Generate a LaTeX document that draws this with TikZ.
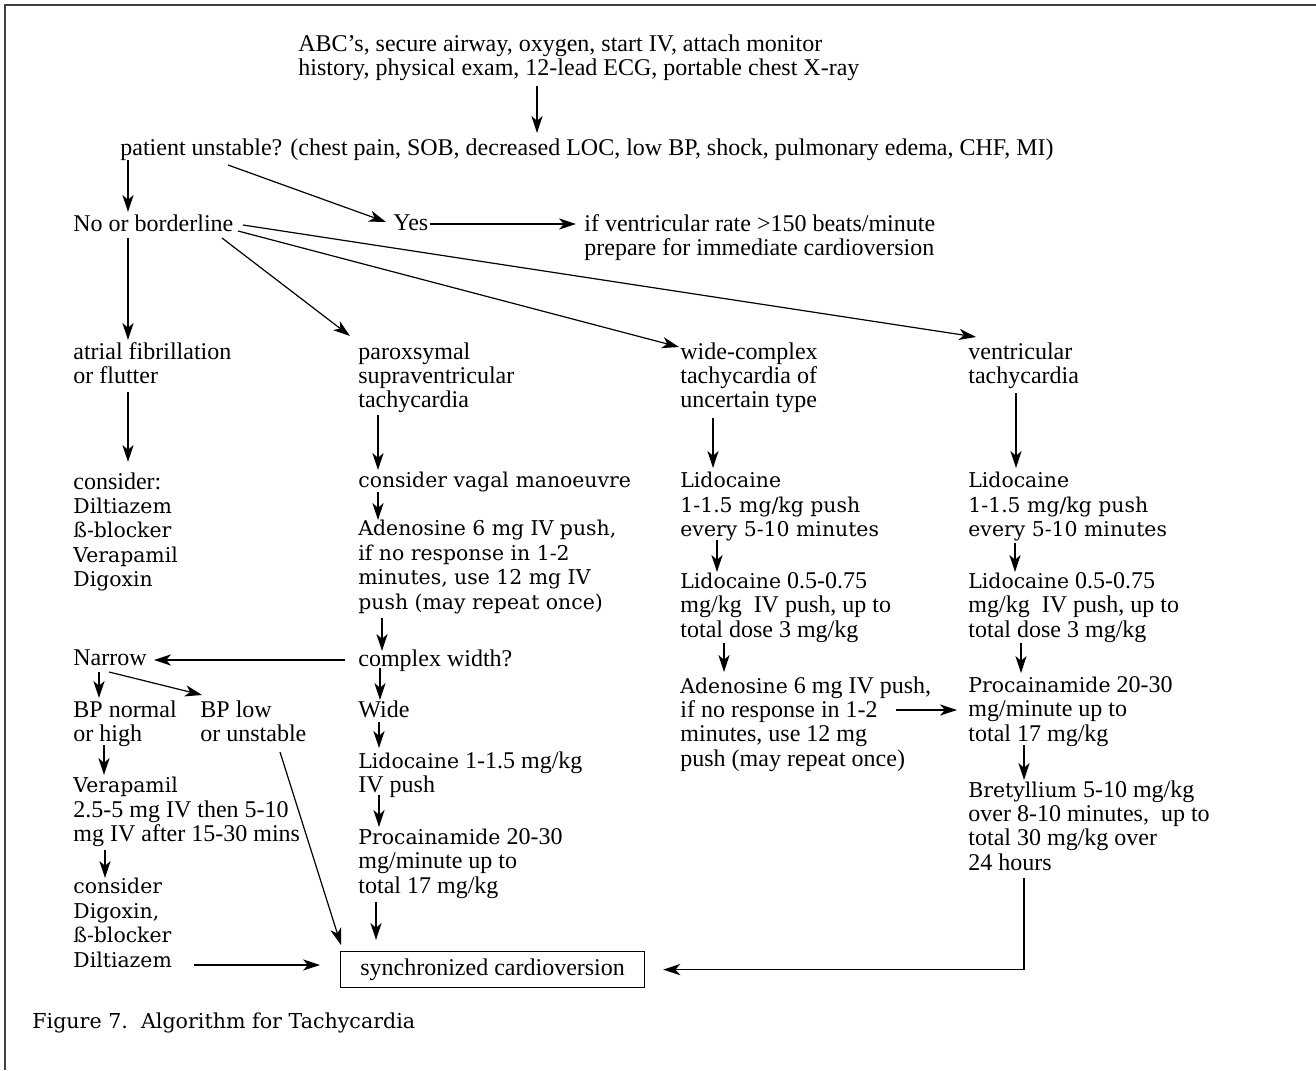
\documentclass[tikz,border=0pt]{standalone}
\usepackage{fontspec}
\setmainfont{Liberation Serif}
\newfontfamily\widefont{DejaVu Serif}
\usetikzlibrary{arrows.meta}

\newcommand\drug[1]{{\widefont\fontsize{10.2}{12.2}\selectfont #1}}

\tikzset{
  txt/.style={anchor=north west, inner sep=0pt, align=left,
    font=\fontsize{12}{12.2}\selectfont},
  wtxt/.style={txt, font=\widefont\fontsize{10.2}{12.2}\selectfont},
  arr/.style={-{Stealth[length=8.5pt,width=5.6pt,inset=2.4pt]}, line width=0.6pt},
  syncbox/.style={draw, line width=0.6pt, anchor=north west, inner sep=0pt,
    minimum width=152pt, minimum height=18pt, font=\fontsize{12}{12.2}\selectfont}
}

\begin{document}
\begin{tikzpicture}[x=0.5pt,y=-0.5pt]
  \useasboundingbox (0,0) rectangle (1316,1070);
  \draw[line width=0.9pt, black!75] (5,1070) -- (5,5) -- (1316,5);

  % top of the chart
  \node[txt] (top) at (298,34) {ABC's, secure airway, oxygen, start IV, attach monitor\\
    history, physical exam, 12-lead ECG, portable chest X-ray};
  \node[txt] (pu) at (120,138) {patient unstable? (chest pain, SOB, decreased LOC, low BP, shock, pulmonary edema, CHF, MI)};
  \node[txt] (no) at (73,214) {No or borderline};
  \node[txt] (yes) at (393,214) {Yes};
  \node[txt] (vr) at (584,214) {if ventricular rate >150 beats/minute\\prepare for immediate cardioversion};

  % the four branches
  \node[txt] (af) at (73,342) {atrial fibrillation\\or flutter};
  \node[txt] (psvt) at (358,342) {paroxsymal\\supraventricular\\tachycardia};
  \node[txt] (wct) at (680,342) {wide-complex\\tachycardia of\\uncertain type};
  \node[txt] (vt) at (968,342) {ventricular\\tachycardia};

  \node[txt] (cons1) at (73,472) {consider:\\\drug{Diltiazem}\\\drug{ß-blocker}\\\drug{Verapamil}\\\drug{Digoxin}};

  \node[wtxt] (vag) at (358,472) {consider vagal manoeuvre};
  \node[wtxt] (ad1) at (358,520) {Adenosine 6 mg IV push,\\if no response in 1-2\\minutes, use 12 mg IV\\push (may repeat once)};
  \node[txt] (cw) at (358,649) {complex width?};
  \node[txt] (nar) at (73,649) {Narrow};
  \node[txt] (wide) at (358,700) {Wide};
  \node[txt] (bpn) at (73,700) {BP normal\\or high};
  \node[txt] (bpl) at (200,700) {BP low\\or unstable};
  \node[txt] (lid) at (358,751) {\drug{Lidocaine} 1-1.5 mg/kg\\IV push};
  \node[txt] (proc) at (358,828) {\drug{Procainamide} 20-30\\mg/minute up to\\total 17 mg/kg};
  \node[txt] (ver) at (73,777) {\drug{Verapamil}\\2.5-5 mg IV then 5-10\\mg IV after 15-30 mins};
  \node[wtxt] (cons2) at (73,878) {consider\\Digoxin,\\ß-blocker\\Diltiazem};
  \node[syncbox] (sync) at (340,951) {synchronized cardioversion};

  \node[wtxt] (wlid1) at (680,472) {Lidocaine\\1-1.5 mg/kg push\\every 5-10 minutes};
  \node[txt] (wlid2) at (680,572) {\drug{Lidocaine} 0.5-0.75\\mg/kg\ \ IV push, up to\\total dose 3 mg/kg};
  \node[txt] (ad2) at (680,676) {\drug{Adenosine} 6 mg IV push,\\if no response in 1-2\\minutes, use 12 mg\\push (may repeat once)};

  \node[wtxt] (vlid1) at (968,472) {Lidocaine\\1-1.5 mg/kg push\\every 5-10 minutes};
  \node[txt] (vlid2) at (968,572) {\drug{Lidocaine} 0.5-0.75\\mg/kg\ \ IV push, up to\\total dose 3 mg/kg};
  \node[txt] (proc2) at (968,676) {\drug{Procainamide} 20-30\\mg/minute up to\\total 17 mg/kg};
  \node[txt] (bret) at (968,780) {\drug{Bretyllium} 5-10 mg/kg\\over 8-10 minutes,\ \ up to\\total 30 mg/kg over\\24 hours};

  \node[wtxt, font=\widefont\fontsize{10.3}{13}\selectfont] (cap) at (32,1012) {Figure 7.\ \ Algorithm for Tachycardia};

  % arrows
  \draw[arr] ([shift={(239,52)}]top.north west) -- ([shift={(417,-5)}]pu.north west);
  \draw[arr] ([shift={(8,22)}]pu.north west) -- ([shift={(55,-2)}]no.north west);
  \draw[arr] ([shift={(108,27)}]pu.north west) -- ([shift={(-7,8)}]yes.north west);
  \draw[arr] ([shift={(37,10)}]yes.north west) -- ([shift={(-8,10)}]vr.north west);

  \draw[arr] ([shift={(55,24)}]no.north west) -- ([shift={(55,-2)}]af.north west);
  \draw[arr] ([shift={(149,24)}]no.north west) -- ([shift={(-8,-6)}]psvt.north west);
  \draw[arr] ([shift={(165,17)}]no.north west) -- ([shift={(-1,5)}]wct.north west);
  \draw[arr] ([shift={(170,11)}]no.north west) -- ([shift={(8,-5)}]vt.north west);

  \draw[arr] ([shift={(55,50)}]af.north west) -- ([shift={(55,-10)}]cons1.north west);
  \draw[arr] ([shift={(20,73)}]psvt.north west) -- ([shift={(20,-2)}]vag.north west);
  \draw[arr] ([shift={(20,20)}]vag.north west) -- ([shift={(20,0)}]ad1.north west);
  \draw[arr] ([shift={(24,98)}]ad1.north west) -- ([shift={(24,2)}]cw.north west);
  \draw[arr] ([shift={(-13,11)}]cw.north west) -- ([shift={(81,11)}]nar.north west);
  \draw[arr] ([shift={(22,19)}]cw.north west) -- ([shift={(22,0)}]wide.north west);
  \draw[arr] ([shift={(21,22)}]wide.north west) -- ([shift={(21,-3)}]lid.north west);
  \draw[arr] ([shift={(21,44)}]lid.north west) -- ([shift={(21,-1)}]proc.north west);
  \draw[arr] ([shift={(18,74)}]proc.north west) -- ([shift={(36,-11)}]sync.north west);

  \draw[arr] ([shift={(26,23)}]nar.north west) -- ([shift={(26,-2)}]bpn.north west);
  \draw[arr] ([shift={(36,23)}]nar.north west) -- ([shift={(2,-5)}]bpl.north west);
  \draw[arr] ([shift={(31,45)}]bpn.north west) -- ([shift={(31,-2)}]ver.north west);
  \draw[arr] ([shift={(32,73)}]ver.north west) -- ([shift={(32,0)}]cons2.north west);
  \draw[arr] ([shift={(121,87)}]cons2.north west) -- ([shift={(-20,14)}]sync.north west);
  \draw[arr] ([shift={(80,52)}]bpl.north west) -- ([shift={(1,-6)}]sync.north west);

  \draw[arr] ([shift={(33,76)}]wct.north west) -- ([shift={(33,-4)}]wlid1.north west);
  \draw[arr] ([shift={(37,68)}]wlid1.north west) -- ([shift={(37,0)}]wlid2.north west);
  \draw[arr] ([shift={(44,71)}]wlid2.north west) -- ([shift={(44,-4)}]ad2.north west);
  \draw[arr] ([shift={(216,34)}]ad2.north west) -- ([shift={(-11,34)}]proc2.north west);

  \draw[arr] ([shift={(48,51)}]vt.north west) -- ([shift={(48,-4)}]vlid1.north west);
  \draw[arr] ([shift={(47,71)}]vlid1.north west) -- ([shift={(47,0)}]vlid2.north west);
  \draw[arr] ([shift={(53,71)}]vlid2.north west) -- ([shift={(53,-3)}]proc2.north west);
  \draw[arr] ([shift={(56,69)}]proc2.north west) -- ([shift={(56,0)}]bret.north west);
  \draw[arr] ([shift={(56,98)}]bret.north west) |- ([shift={(18,0)}]sync.east);
\end{tikzpicture}
\end{document}
